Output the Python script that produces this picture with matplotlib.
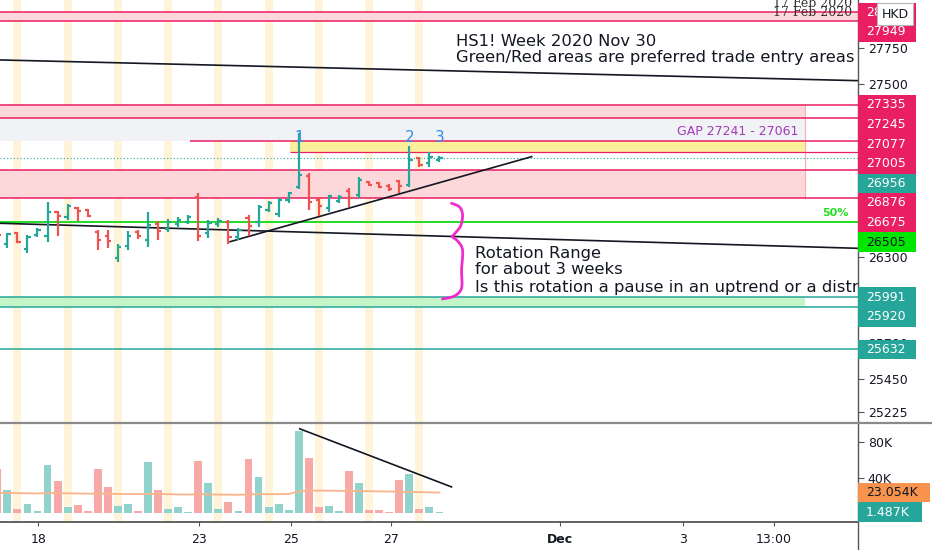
import numpy as np
import matplotlib.pyplot as plt
from matplotlib.patches import Rectangle
from matplotlib.lines import Line2D

W, H = 932, 550

# OHLC bars, index -1 is the bar cut by the left edge
bar_idx = list(range(-1, 44))
opens = [26467, 26390, 26467, 26355, 26453, 26446, 26612, 26578, 26640, 26626,
         26473, 26446, 26293, 26376, 26473, 26418, 26529, 26494, 26529, 26543,
         26717, 26467, 26529, 26543, 26439, 26571, 26543, 26626, 26599, 26696,
         26786, 26863, 26696, 26640, 26689, 26758, 26730, 26821, 26814, 26793,
         26828, 26800, 26988, 26953, 26974]
highs = [26473, 26467, 26473, 26453, 26501, 26682, 26619, 26668, 26647, 26633,
         26487, 26487, 26390, 26480, 26487, 26612, 26550, 26564, 26578, 26592,
         26744, 26557, 26571, 26557, 26501, 26592, 26661, 26689, 26710, 26751,
         27161, 26883, 26717, 26730, 26730, 26779, 26856, 26828, 26821, 26807,
         26835, 27071, 26995, 27029, 27002]
lows = [26432, 26362, 26397, 26328, 26439, 26404, 26446, 26557, 26550, 26578,
        26348, 26362, 26265, 26348, 26425, 26369, 26418, 26473, 26508, 26529,
        26411, 26432, 26508, 26390, 26418, 26446, 26508, 26612, 26578, 26675,
        26772, 26626, 26585, 26612, 26675, 26647, 26710, 26793, 26779, 26758,
        26744, 26786, 26925, 26925, 26960]
closes = [26453, 26460, 26404, 26439, 26487, 26612, 26585, 26654, 26619, 26585,
          26418, 26411, 26369, 26446, 26446, 26522, 26480, 26543, 26557, 26578,
          26446, 26536, 26550, 26439, 26487, 26515, 26647, 26675, 26696, 26744,
          26870, 26682, 26654, 26724, 26717, 26710, 26835, 26800, 26786, 26772,
          26793, 26974, 26939, 26995, 26990]
volumes = [49.7, 26.1, 4.8, 10.5, 1.7, 54.7, 36.0, 6.3, 9.0, 2.5,
           49.7, 29.1, 7.4, 9.7, 2.5, 57.7, 26.1, 4.8, 6.7, 1.3,
           58.9, 34.1, 4.8, 12.4, 1.7, 61.5, 40.6, 6.3, 10.5, 2.9,
           92.4, 62.3, 7.0, 7.4, 1.7, 47.8, 34.1, 2.9, 2.9, 1.0,
           37.5, 43.6, 4.8, 7.0, 1.487]
vol_ma = [22.8, 22.6, 22.4, 22.3, 22.1, 22.5, 22.4, 22.2, 22.0, 21.8,
          22.0, 21.8, 21.6, 21.4, 21.3, 21.6, 21.4, 21.2, 21.0, 20.8,
          21.2, 21.0, 20.8, 20.7, 20.5, 21.0, 21.3, 21.2, 21.3, 21.5,
          24.2, 25.4, 25.3, 25.2, 25.0, 25.0, 24.8, 24.6, 24.4, 24.2,
          24.0, 23.8, 23.6, 23.3, 23.054]

session_bars = [1, 6, 11, 16, 21, 26, 31, 36, 41]
day_ticks = [3.1, 19.1, 28.2, 38.2, 55.0, 67.2, 76.3]
day_labels = ['18', '23', '25', '27', 'Dec', '3', '13:00']
price_ticks = [27750, 27500, 26300, 25700, 25450, 25225]

# drawn levels
top_zone = (27942, 28000)
red_zones = [(27268, 27356), (26710, 26904)]
gap_zone = (27108, 27268)
yellow_zone = (27031, 27108)
green_zone = (25954, 26020)
red_levels = [28000, 27942, 27356, 27268, 26904, 26710]
gap_low_line = 27108
yellow_low_line = 27031
teal_levels = [26020, 25954, 25658]
fifty_level = 26541

# trend lines (bar, price)
upper_line = [(-0.73, 27669), (84.65, 27525)]
lower_line = [(-0.73, 26534), (84.65, 26360)]
trend_line = [(22.16, 26406), (52.18, 26997)]
vol_line = [(29.1, 95.4), (44.2, 29.5)]
brace_pts = [(44.2, 26673), (45.0, 26647), (45.3, 26592), (45.1, 26515),
             (44.5, 26460), (44.3, 26439), (44.8, 26411), (45.3, 26348),
             (45.2, 26209), (45.2, 26084), (44.5, 26029), (43.3, 26008)]

UP, DOWN = '#26a69a', '#ef5350'
PINK = '#e91e63'
TEAL = '#26a69a'
XMIN, XMAX = -0.73, 84.65
ZONE_END = 79.4
PMIN, PMAX = 25153, 28085.6


def smooth(pts, n=10):
    p = np.array(pts, dtype=float)
    p = np.vstack([p[0], p, p[-1]])
    out = []
    for i in range(1, len(p) - 2):
        p0, p1, p2, p3 = p[i - 1], p[i], p[i + 1], p[i + 2]
        for t in np.linspace(0, 1, n, endpoint=False):
            out.append(0.5 * (2 * p1 + (-p0 + p2) * t
                              + (2 * p0 - 5 * p1 + 4 * p2 - p3) * t ** 2
                              + (-p0 + 3 * p1 - 3 * p2 + p3) * t ** 3))
    out.append(p[-2])
    return np.array(out)


fig = plt.figure(figsize=(W / 100, H / 100), dpi=100)
ax = fig.add_axes([0, 1 - 422 / H, 858 / W, 422 / H])
vax = fig.add_axes([0, 28 / H, 858 / W, 100 / H])

for a in (ax, vax):
    a.set_xlim(XMIN, XMAX)
    for s in a.spines.values():
        s.set_visible(False)
    for b in session_bars:
        a.axvspan(b - 0.4, b + 0.4, color='#fff4da', zorder=0, lw=0)

ax.set_ylim(PMIN, PMAX)
vax.set_ylim(-10.3, 103.1)

# zones
ax.axhspan(*top_zone, color='#fcd8dc', lw=0, zorder=1)
for lo, hi in red_zones:
    ax.fill_between([XMIN, ZONE_END], lo, hi, color='#fcd8da', lw=0, zorder=1)
ax.fill_between([XMIN, ZONE_END], *gap_zone, color='#f0f2f6', lw=0, zorder=1)
ax.fill_between([28.1, ZONE_END], *yellow_zone, color='#fcef9c', lw=0, zorder=1)
ax.fill_between([XMIN, ZONE_END], *green_zone, color='#c3f5c8', lw=0, zorder=1)
ax.axvline(ZONE_END, ymin=(26710 - PMIN) / (PMAX - PMIN), ymax=(27356 - PMIN) / (PMAX - PMIN),
           color='#f7b2a8', lw=0.8, zorder=1)

for lv in red_levels:
    ax.axhline(lv, color=PINK, lw=1.1, zorder=2)
ax.hlines(gap_low_line, 18.2, XMAX, color=PINK, lw=1.1, zorder=2)
ax.hlines(yellow_low_line, 28.1, XMAX, color=PINK, lw=0.9, zorder=2)
for lv in teal_levels:
    ax.axhline(lv, color=TEAL, lw=1.1, zorder=2)
ax.axhline(fifty_level, color='#22dd22', lw=1.4, zorder=2)
ax.axhline(closes[-1], color=TEAL, lw=0.8, ls=(0, (1, 2)), zorder=2)

for seg in (upper_line, lower_line, trend_line):
    (x0, y0), (x1, y1) = seg
    ax.plot([x0, x1], [y0, y1], color='#131722', lw=1.2, zorder=3)

# OHLC bars
x = np.array(bar_idx, dtype=float)
cols = [UP if c >= o else DOWN for o, c in zip(opens, closes)]
ax.vlines(x, lows, highs, colors=cols, lw=1.6, zorder=4)
ax.hlines(opens, x - 0.32, x, colors=cols, lw=1.6, zorder=4)
ax.hlines(closes, x, x + 0.32, colors=cols, lw=1.6, zorder=4)

b = smooth(brace_pts)
ax.plot(b[:, 0], b[:, 1], color='#f02ccd', lw=2, zorder=5, solid_capstyle='round')

# texts
note = dict(fontsize=11.8, color='#131722', va='center', clip_on=True, zorder=6)
ax.text(44.65, 27796, 'HS1! Week 2020 Nov 30', **note)
ax.text(44.65, 27687, 'Green/Red areas are preferred trade entry areas', **note)
ax.text(46.54, 26327, 'Rotation Range', **note)
ax.text(46.54, 26216, 'for about 3 weeks', **note)
ax.text(46.54, 26091, 'Is this rotation a pause in an uptrend or a distribution?', **note)
ax.text(78.7, 27175, 'GAP 27241 - 27061', fontsize=9, color='#a23cb5', ha='right',
        va='center', zorder=6)
ax.text(82.4, 26606, '50%', fontsize=8, color='#22dd22', fontweight='bold', ha='center',
        va='center', zorder=6)
for i, lab in zip([29, 40, 43], ['1', '2', '3']):
    ax.text(i, 27130, lab, fontsize=11, color='#2f8fe8', ha='center', va='center', zorder=6)

# volume
vcols = ['#92d2cc' if c >= o else '#f7a9a7' for o, c in zip(opens, closes)]
vax.bar(x, volumes, width=0.78, color=vcols, zorder=2)
vax.plot(x, vol_ma, color='#f9b48a', lw=1.3, zorder=3)
(x0, y0), (x1, y1) = vol_line
vax.plot([x0, x1], [y0, y1], color='#131722', lw=1.2, zorder=4)

# axes ticks
ax.set_xticks([])
ax.yaxis.tick_right()
ax.set_yticks(price_ticks)
ax.set_yticklabels([str(t) for t in price_ticks])
ax.tick_params(axis='y', length=4, width=0.8, color='#555555', pad=3, labelsize=9,
               labelcolor='#131722')

vax.yaxis.tick_right()
vax.set_yticks([40, 80])
vax.set_yticklabels(['40K', '80K'])
vax.tick_params(axis='y', length=4, width=0.8, color='#555555', pad=3, labelsize=9,
                labelcolor='#131722')
vax.spines['bottom'].set_visible(True)
vax.spines['bottom'].set_color('#555555')
vax.spines['bottom'].set_linewidth(1.3)
vax.set_xticks(day_ticks)
vax.set_xticklabels(day_labels)
vax.tick_params(axis='x', length=3, width=0.8, color='#555555', pad=5, labelsize=9,
                labelcolor='#131722')
for t in vax.get_xticklabels():
    if t.get_text() == 'Dec':
        t.set_fontweight('bold')

# frame lines
fig.add_artist(Line2D([858 / W, 858 / W], [0, 1], color='#555555', lw=1.0,
                      transform=fig.transFigure))
fig.add_artist(Line2D([0, 1], [1 - 422.5 / H, 1 - 422.5 / H], color='#8a8a8a', lw=1.6,
                      transform=fig.transFigure))


def tag_rows(axis, tags, h=19.6):
    rows = []
    for text, value, face, ink, width in tags:
        y = H - axis.transData.transform((0, value))[1]
        rows.append([y, text, face, ink, width])
    rows.sort(key=lambda r: r[0])
    prev = -1e9
    for r in rows:
        r[0] = max(r[0], prev + h)
        prev = r[0]
    return rows


def draw_tags(rows, h=19.6):
    for y, text, face, ink, width in rows:
        fig.add_artist(Rectangle((858 / W, 1 - (y + h / 2) / H), width / W, h / H,
                                 facecolor=face, edgecolor='none',
                                 transform=fig.transFigure, zorder=5))
        fig.text(866 / W, 1 - y / H, text, color=ink, fontsize=9, va='center',
                 ha='left', zorder=6)


price_tags = [
    ('28000', 28000, PINK, 'white', 58),
    ('27949', 27942, PINK, 'white', 58),
    ('27335', 27356, PINK, 'white', 58),
    ('27245', 27268, PINK, 'white', 58),
    ('27077', 27108, PINK, 'white', 58),
    ('27005', 27031, PINK, 'white', 58),
    ('26956', closes[-1], TEAL, 'white', 58),
    ('26876', 26904, PINK, 'white', 58),
    ('26675', 26710, PINK, 'white', 58),
    ('26505', fifty_level, '#00e600', '#131722', 58),
    ('25991', 26020, TEAL, 'white', 58),
    ('25920', 25954, TEAL, 'white', 58),
    ('25632', 25658, TEAL, 'white', 58),
]
vol_tags = [
    ('23.054K', vol_ma[-1], '#f7934c', '#131722', 72),
    ('1.487K', volumes[-1], TEAL, 'white', 64),
]
draw_tags(tag_rows(ax, price_tags))
draw_tags(tag_rows(vax, vol_tags))

# currency box and date marks
fig.add_artist(Rectangle((877 / W, 1 - 25 / H), 36 / W, 22 / H, facecolor='white',
                         edgecolor='#b2b5be', lw=0.8, transform=fig.transFigure, zorder=7))
fig.text(895 / W, 1 - 14 / H, 'HKD', fontsize=9, color='#131722', ha='center',
         va='center', zorder=8)
for yy in (3.5, 12.5):
    fig.text(852 / W, 1 - yy / H, '17 Feb 2020', fontsize=9, family='DejaVu Serif',
             color='#333333', ha='right', va='center', zorder=6)

fig.savefig('out.png', dpi=100, facecolor='white')
